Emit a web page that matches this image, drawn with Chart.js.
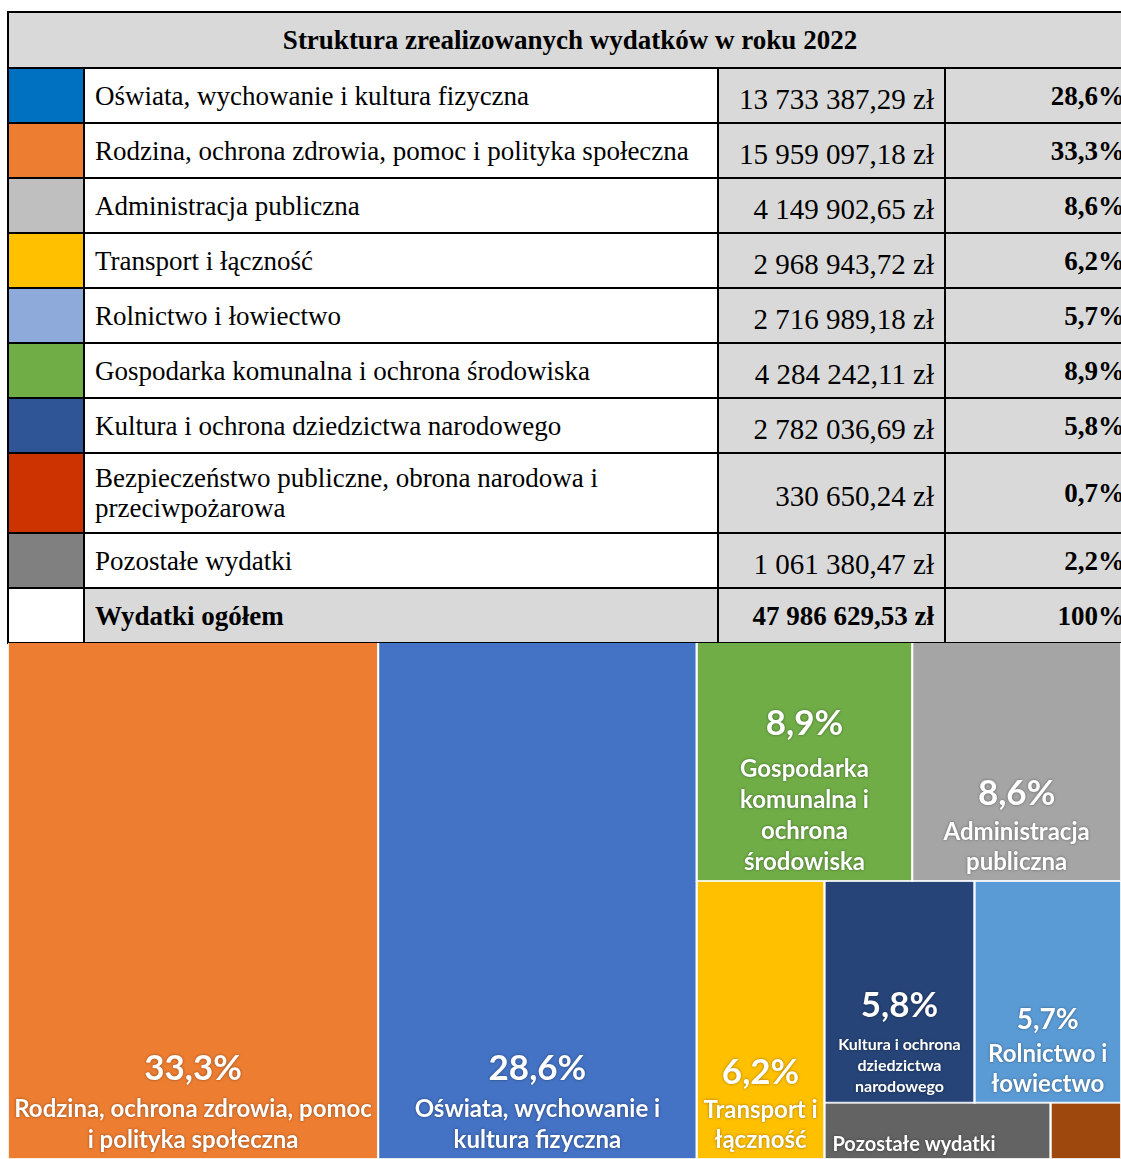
<!DOCTYPE html>
<html lang="pl">
<head>
<meta charset="utf-8">
<title>Struktura zrealizowanych wydatków w roku 2022</title>
<script src="https://cdn.jsdelivr.net/npm/chart.js@4.4.0/dist/chart.umd.min.js"></script>
<style>
  html, body { margin: 0; padding: 0; background: #fff; width: 1121px; height: 1159px; overflow: hidden; }
  #tbl { position: absolute; left: 7px; top: 11px; width: 1126px; border-collapse: collapse; table-layout: fixed;
         font-family: "Liberation Serif", "Times New Roman", serif; font-size: 27px; color: #000; }
  #tbl td { border: 2px solid #000; padding: 0 10px; height: 53px; line-height: 30px; }
  #tbl td.title { background: #d9d9d9; text-align: center; font-weight: bold; font-size: 27px; height: 54px; }
  #tbl td.nm { background: #fff; padding-top: 9px; padding-bottom: 9px; height: 35px; }
  #tbl td.am { background: #d9d9d9; text-align: right; white-space: nowrap; font-size: 29px; padding-top: 6px; height: 47px; }
  #tbl td.pc { background: #d9d9d9; text-align: right; font-weight: bold; white-space: nowrap; padding-right: 6px; }
  #tbl tr.total td { font-weight: bold; background: #d9d9d9; }
  #tbl tr.total td.am { font-size: 27px; padding-top: 0; height: 53px; }
  #tbl tr.total td.sw { background: #fff; }
  #wrap { position: absolute; left: 8px; top: 643px; width: 1113px; height: 516px; }
</style>
</head>
<body>
<table id="tbl">
  <colgroup><col style="width:76px"><col style="width:634px"><col style="width:227px"><col></colgroup>
  <tbody>
    <tr><td class="title" colspan="4" id="title"></td></tr>
  </tbody>
</table>
<div id="wrap"><canvas id="treemap" width="1113" height="516"></canvas></div>
<script>
const title = 'Struktura zrealizowanych wydatków w roku 2022';
const categories = [
    'Oświata, wychowanie i kultura fizyczna',
    'Rodzina, ochrona zdrowia, pomoc i polityka społeczna',
    'Administracja publiczna',
    'Transport i łączność',
    'Rolnictwo i łowiectwo',
    'Gospodarka komunalna i ochrona środowiska',
    'Kultura i ochrona dziedzictwa narodowego',
    'Bezpieczeństwo publiczne, obrona narodowa i przeciwpożarowa',
    'Pozostałe wydatki'
];
const amounts = [13733387.29, 15959097.18, 4149902.65, 2968943.72, 2716989.18, 4284242.11, 2782036.69, 330650.24, 1061380.47];
const totalLabel = 'Wydatki ogółem';
const totalAmount = 47986629.53;
const tableColors = ['#0070c0', '#ed7d31', '#bfbfbf', '#ffc000', '#8eaadb', '#70ad47', '#2f5597', '#cc3300', '#808080'];
const treemapColors = ['#4472c4', '#ed7d31', '#a5a5a5', '#ffc000', '#5b9bd5', '#70ad47', '#264478', '#9e480e', '#636363'];
// wrapped names as they appear inside the treemap tiles
const treemapLines = [
    ['Oświata, wychowanie i', 'kultura fizyczna'],
    ['Rodzina, ochrona zdrowia, pomoc', 'i polityka społeczna'],
    ['Administracja', 'publiczna'],
    ['Transport i', 'łączność'],
    ['Rolnictwo i', 'łowiectwo'],
    ['Gospodarka', 'komunalna i', 'ochrona', 'środowiska'],
    ['Kultura i ochrona', 'dziedzictwa', 'narodowego'],
    [],
    ['Pozostałe wydatki']
];

// split tree: 'h' = side by side, 'v' = stacked, numbers = category index
const tiling = ['h', 1, 0, ['v', ['h', 5, 2], ['h', 3, ['v', ['h', 6, 4], ['h', 8, 7]]]]];

// label sizes per tile (name font, line height, percent font, gap to percent, alignment)
const labelStyle = [
    {name: 24, lh: 31, pct: 35, gap: 37},
    {name: 24, lh: 31, pct: 35, gap: 37},
    {name: 24, lh: 30, pct: 35, gap: 35},
    {name: 24, lh: 30, pct: 35, gap: 34},
    {name: 24, lh: 30, pct: 28, gap: 33},
    {name: 24, lh: 31, pct: 35, gap: 42},
    {name: 16, lh: 21, pct: 35, gap: 33},
    null,
    {name: 20, lh: 0, pct: 0, gap: 0, align: 'left'}
];

function zl(v) {
    const parts = v.toFixed(2).split('.');
    return parts[0].replace(/\B(?=(\d{3})+(?!\d))/g, ' ') + ',' + parts[1] + ' zł';
}
function pct(v) {
    return (v / totalAmount * 100).toFixed(1).replace('.', ',') + '%';
}

// table
document.getElementById('title').textContent = title;
const tbody = document.querySelector('#tbl tbody');
categories.forEach((name, i) => {
    const tr = document.createElement('tr');
    tr.innerHTML = '<td class="sw" style="background:' + tableColors[i] + '"></td>' +
        '<td class="nm"></td><td class="am"></td><td class="pc"></td>';
    tr.children[1].textContent = name;
    tr.children[2].textContent = zl(amounts[i]);
    tr.children[3].textContent = pct(amounts[i]);
    tbody.appendChild(tr);
});
const totalRow = document.createElement('tr');
totalRow.className = 'total';
totalRow.innerHTML = '<td class="sw"></td><td class="nm"></td><td class="am"></td><td class="pc">100%</td>';
totalRow.children[1].textContent = totalLabel;
totalRow.children[2].textContent = zl(totalAmount);
tbody.appendChild(totalRow);

// treemap layout in unit square (y grows downward)
function nodeSum(node) {
    if (typeof node === 'number') return amounts[node];
    return node.slice(1).reduce((s, n) => s + nodeSum(n), 0);
}
function layout(node, x0, y0, x1, y1, out) {
    if (typeof node === 'number') {
        out[node] = {x0, y0, x1, y1};
        return out;
    }
    const horiz = node[0] === 'h';
    const total = nodeSum(node);
    let pos = horiz ? x0 : y0;
    node.slice(1).forEach(k => {
        const span = (horiz ? x1 - x0 : y1 - y0) * nodeSum(k) / total;
        if (horiz) layout(k, pos, y0, pos + span, y1, out);
        else layout(k, x0, pos, x1, pos + span, out);
        pos += span;
    });
    return out;
}
const cells = layout(tiling, 0, 0, 1, 1, []);

const datasets = cells.map((c, i) => ({
    label: categories[i],
    data: [{x: c.x0, y: c.y0}, {x: c.x0, y: c.y1}, {x: c.x1, y: c.y1}, {x: c.x1, y: c.y0}],
    showLine: true,
    fill: 'shape',
    backgroundColor: treemapColors[i],
    borderColor: 'rgba(255,255,255,0.85)',
    borderWidth: 2,
    pointRadius: 0,
    tension: 0
}));

const cellLabels = {
    id: 'cellLabels',
    afterDatasetsDraw(chart) {
        const {ctx, chartArea} = chart;
        const x = chart.scales.x, y = chart.scales.y;
        ctx.save();
        ctx.fillStyle = '#fff';
        ctx.shadowColor = 'rgba(0,0,0,0.4)';
        ctx.shadowBlur = 3;
        ctx.textBaseline = 'alphabetic';
        cells.forEach((c, i) => {
            const st = labelStyle[i];
            if (!st) return;
            const left = x.getPixelForValue(c.x0), right = x.getPixelForValue(c.x1);
            const bottom = Math.min(y.getPixelForValue(c.y1), chartArea.bottom);
            const align = st.align || 'center';
            const cx = align === 'left' ? left + 8 : (left + right) / 2;
            ctx.textAlign = align;
            let base = bottom - (align === 'left' ? 8 : 11);
            const lines = treemapLines[i];
            ctx.font = 'bold ' + st.name + 'px Lato';
            for (let k = lines.length - 1; k >= 0; k--) {
                ctx.fillText(lines[k], cx, base);
                if (k > 0) base -= st.lh;
            }
            if (st.pct) {
                ctx.font = 'bold ' + st.pct + 'px Lato';
                ctx.fillText(pct(amounts[i]), cx, base - st.gap);
            }
        });
        ctx.restore();
    }
};

new Chart(document.getElementById('treemap'), {
    type: 'scatter',
    data: {datasets: datasets},
    options: {
        responsive: false,
        animation: false,
        layout: {padding: 0},
        scales: {
            x: {type: 'linear', min: 0, max: 1, display: false},
            y: {type: 'linear', min: 0, max: 1, reverse: true, display: false}
        },
        plugins: {
            legend: {display: false},
            tooltip: {enabled: false},
            filler: {drawTime: 'beforeDatasetsDraw'}
        }
    },
    plugins: [cellLabels]
});
</script>
</body>
</html>
